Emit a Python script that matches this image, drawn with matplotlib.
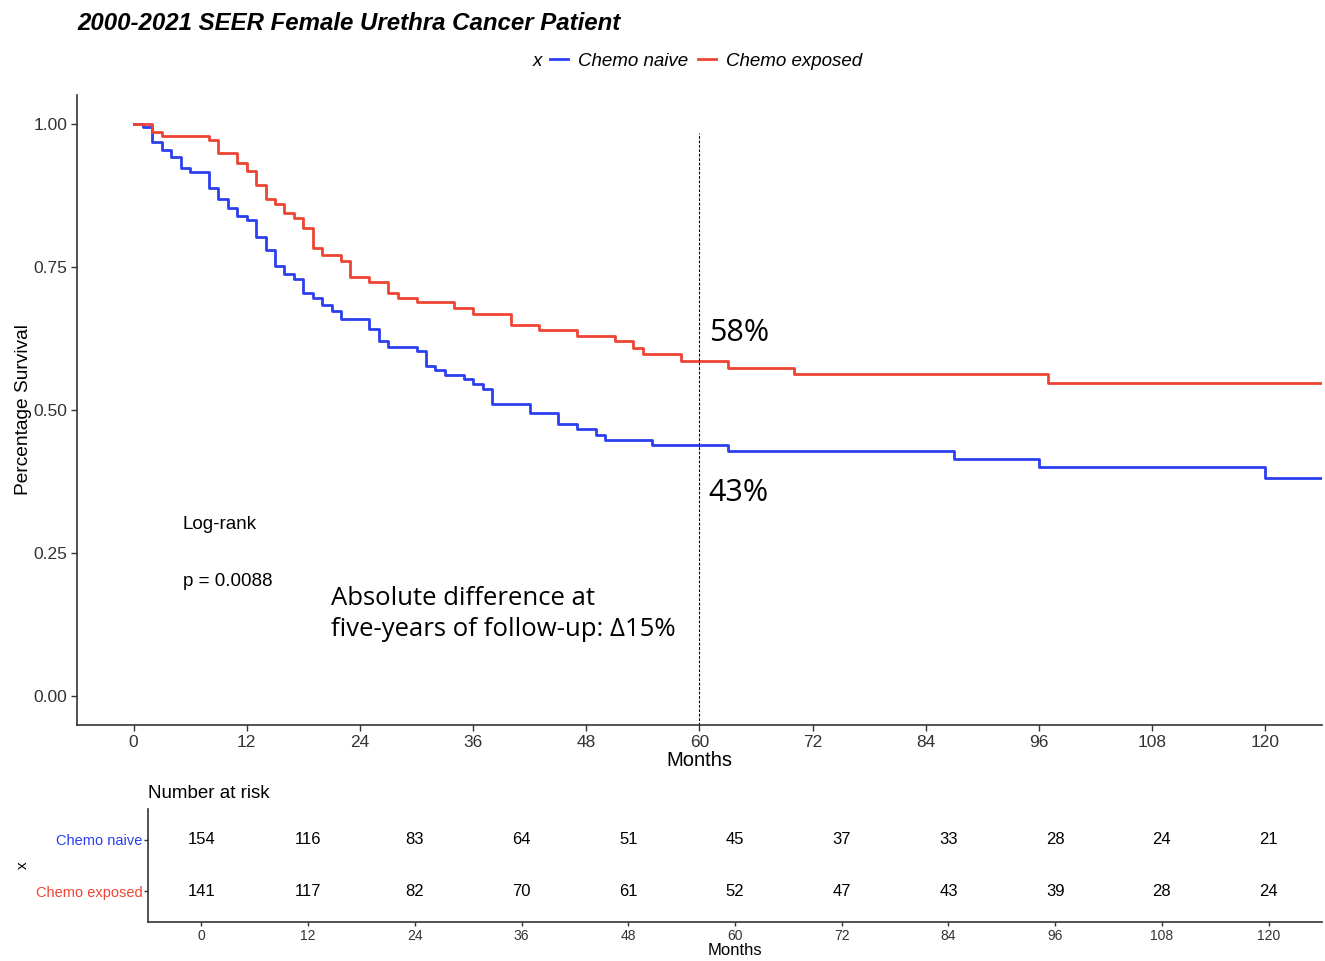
import matplotlib.pyplot as plt
from matplotlib.font_manager import FontProperties

plt.rcParams['font.family'] = ['Liberation Sans', 'DejaVu Sans']

# Kaplan-Meier steps (months, survival)
naive_t = [0, 1, 2, 3, 4, 5, 6, 8, 9, 10, 11, 12, 13, 14, 15, 16, 17, 18, 19, 20, 21, 22,
           25, 26, 27, 30, 31, 32, 33, 35, 36, 37, 38, 42, 45, 47, 49, 50, 55, 63, 87, 96, 120, 126]
naive_s = [1.0, 0.994, 0.968, 0.954, 0.941, 0.922, 0.915, 0.888, 0.868, 0.853, 0.838, 0.831,
           0.802, 0.78, 0.751, 0.737, 0.728, 0.704, 0.696, 0.683, 0.673, 0.659, 0.641, 0.621,
           0.610, 0.603, 0.577, 0.569, 0.561, 0.554, 0.546, 0.537, 0.510, 0.494, 0.476, 0.467,
           0.457, 0.447, 0.438, 0.428, 0.415, 0.401, 0.381, 0.381]

exposed_t = [0, 2, 3, 8, 9, 11, 12, 13, 14, 15, 16, 17, 18, 19, 20, 22, 23, 25, 27, 28, 30,
             34, 36, 40, 43, 47, 51, 53, 54, 58, 63, 70, 97, 126]
exposed_s = [1.0, 0.985, 0.979, 0.972, 0.948, 0.932, 0.917, 0.893, 0.868, 0.860, 0.844, 0.836,
             0.818, 0.783, 0.770, 0.760, 0.733, 0.723, 0.705, 0.696, 0.688, 0.678, 0.668, 0.649,
             0.640, 0.630, 0.620, 0.608, 0.597, 0.586, 0.574, 0.563, 0.547, 0.547]

# number at risk
risk_t = [0, 12, 24, 36, 48, 60, 72, 84, 96, 108, 120]
risk_naive = [154, 116, 83, 64, 51, 45, 37, 33, 28, 24, 21]
risk_exposed = [141, 117, 82, 70, 61, 52, 47, 43, 39, 28, 24]

groups = ['Chemo naive', 'Chemo exposed']
colors = ['#2B3FF0', '#EE4433']
y_ticks = [0, 0.25, 0.5, 0.75, 1.0]

dark = '#333333'

fig = plt.figure(figsize=(13.25, 9.61), dpi=100)

# --- survival curves ---
ax = fig.add_axes([0.0581, 0.2456, 0.9396, 0.6556])
l1, = ax.step(naive_t, naive_s, where='post', color=colors[0], lw=2, label=groups[0])
l2, = ax.step(exposed_t, exposed_s, where='post', color=colors[1], lw=2, label=groups[1])
ax.axvline(60, ymin=0, ymax=0.94, color='black', ls=(0, (2.5, 1.5)), lw=0.8)

ax.set_xlim(-6, 126)
ax.set_ylim(-0.05, 1.05)
ax.set_xticks(risk_t)
ax.set_yticks(y_ticks)
ax.set_yticklabels(['%.2f' % v for v in y_ticks])
for s in ['top', 'right']:
    ax.spines[s].set_visible(False)
for s in ['left', 'bottom']:
    ax.spines[s].set_color(dark)
    ax.spines[s].set_linewidth(1.2)
ax.tick_params(length=4, width=1, color=dark, labelsize=12.5, labelcolor=dark, pad=3)
ax.set_xlabel('Months', fontsize=14.5, labelpad=1)
ax.set_ylabel('Percentage Survival', fontsize=13.8, labelpad=1)

ax.text(5.2, 0.30, 'Log-rank', fontsize=13.5, va='center', ha='left')
ax.text(5.2, 0.20, 'p = 0.0088', fontsize=13.5, va='center', ha='left')

ann = ['Open Sans', 'DejaVu Sans']
ax.text(61.0, 0.635, '58%', fontsize=22, va='center', ha='left', family=ann)
ax.text(60.9, 0.355, '43%', fontsize=22, va='center', ha='left', family=ann)
ax.text(20.9, 0.1435, 'Absolute difference at\nfive-years of follow-up: Δ15%',
        fontsize=18.5, va='center', ha='left', linespacing=1.35, family=ann)

# title and legend
fig.text(77 / 1325, 1 - 23 / 961, '2000-2021 SEER Female Urethra Cancer Patient',
         fontsize=17.3, fontweight='bold', style='italic', va='center', ha='left')
fig.text(533 / 1325, 1 - 61 / 961, 'x', fontsize=13.5, style='italic', va='center', ha='left')
fig.legend([l1, l2], groups, loc='center left', bbox_to_anchor=(550 / 1325, 1 - 61 / 961),
           ncol=2, frameon=False, prop=FontProperties(family=['Liberation Sans'], style='italic', size=13.5),
           handlelength=0.96, handletextpad=0.53, columnspacing=0.55, borderpad=0, borderaxespad=0)

# --- number at risk table ---
ax2 = fig.add_axes([0.1117, 0.0406, 0.886, 0.1176])
ax2.set_xlim(-6, 126)
ax2.set_ylim(0.4, 2.6)
for t, a, b in zip(risk_t, risk_naive, risk_exposed):
    ax2.text(t, 2, str(a), ha='center', va='center', fontsize=12)
    ax2.text(t, 1, str(b), ha='center', va='center', fontsize=12)
ax2.set_xticks(risk_t)
ax2.set_yticks([2, 1])
ax2.set_yticklabels(groups)
for lab, c in zip(ax2.get_yticklabels(), colors):
    lab.set_color(c)
for s in ['top', 'right']:
    ax2.spines[s].set_visible(False)
for s in ['left', 'bottom']:
    ax2.spines[s].set_color(dark)
    ax2.spines[s].set_linewidth(1.2)
ax2.tick_params(axis='x', length=3, width=1, color=dark, labelsize=10, labelcolor=dark, pad=2)
ax2.tick_params(axis='y', length=3, width=1, color=dark, labelsize=10.5, pad=1)
ax2.set_xlabel('Months', fontsize=12, labelpad=0)
ax2.set_ylabel('x', fontsize=11, labelpad=4)
ax2.set_title('Number at risk', loc='left', fontsize=13.5, pad=8)

fig.savefig('out.png', dpi=100)
